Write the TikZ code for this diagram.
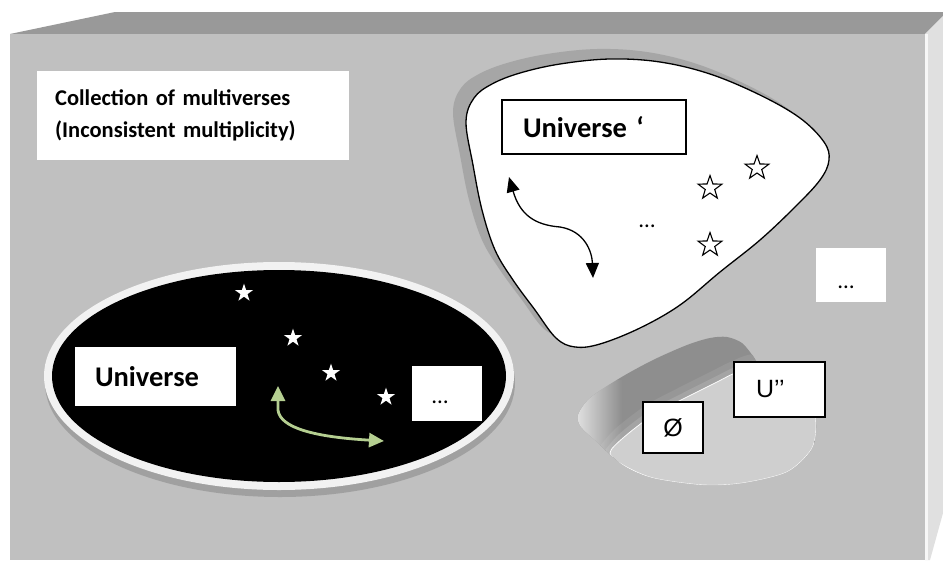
\documentclass[tikz,border=0pt]{standalone}
\usepackage{fontspec}
\setmainfont{Carlito}
\newfontfamily\glyphfont{Liberation Sans}
\usetikzlibrary{shapes.geometric,arrows.meta,fadings}

\definecolor{frontface}{HTML}{C0C0C0}
\definecolor{topface}{HTML}{999999}
\definecolor{sideface}{HTML}{E0E0E0}
\definecolor{ringcol}{HTML}{F2F2F2}
\definecolor{shadowcol}{HTML}{A0A0A0}
\definecolor{blobshadow}{HTML}{A6A6A6}
\definecolor{leaf}{HTML}{B5CF91}
\definecolor{floorcol}{HTML}{CFCFCF}
\definecolor{wallcol}{HTML}{8E8E8E}
\definecolor{wallmid}{HTML}{979797}
\definecolor{walllow}{HTML}{A4A4A4}

\begin{document}
\begin{tikzpicture}[x=1pt,y=-1pt,
  bigbold/.style={font=\bfseries\fontsize{28.5}{32}\selectfont},
  plainbox/.style={fill=white, inner sep=0pt},
  framebox/.style={draw=black, line width=1.3pt, fill=white, inner sep=0pt},
  dotstext/.style={font=\fontsize{23}{26}\selectfont, inner sep=0pt, anchor=base},
  whitestar/.style={star, star points=5, star point ratio=2.6, fill=white,
    inner sep=0pt, minimum size=19pt},
  openstar/.style={star, star points=5, star point ratio=2.5, draw=black,
    line width=1.1pt, fill=white, inner sep=0pt, minimum size=25pt},
  blackends/.style={{Triangle[length=15pt,width=13pt]}-{Triangle[length=15pt,width=13pt]}},
  greenends/.style={{Triangle[length=15pt,width=14pt]}-{Triangle[length=15pt,width=14pt]}}]
\useasboundingbox (0,0) rectangle (943,560);

% the block: top, side and front faces
\fill[white] (0,0) rectangle (943,560);
\fill[topface] (10,34) -- (115,12) -- (943,12) -- (943,16) -- (925,34) -- cycle;
\fill[sideface] (925,34) -- (943,16) -- (943,513) -- (930,560) -- (925,560) -- cycle;
\fill[frontface] (10,34) rectangle (925,560);
\fill[white!88!frontface] (925,34) rectangle (928,560);

% caption
\node (coll) [plainbox, anchor=north west, minimum width=312pt, minimum height=89pt,
  text width=276pt, inner xsep=18pt, align=left,
  font=\bfseries\fontsize{22.5}{32}\selectfont] at (37,71)
  {Collection of multiverses\\(Inconsistent multiplicity)};

% black universe with light rim and drop shadow
\fill[shadowcol] (280,383) ellipse [x radius=235, y radius=114];
\fill[ringcol] (279,376) ellipse [x radius=235, y radius=114];
\fill[black] (279,376) ellipse [x radius=227, y radius=106];

\node (uni) [plainbox, bigbold, minimum width=161pt, minimum height=59pt,
  text width=121pt, inner xsep=20pt, align=left] at (155.5,376.5) {Universe};
\node (udotsbox) [plainbox, minimum width=70pt, minimum height=55pt] at (447,393.5) {};
\node (udots) [dotstext] at (440,403) {…};

\node (s1) [whitestar] at (244,293) {};
\node (s2) [whitestar] at (293,338) {};
\node (s3) [whitestar] at (331,373) {};
\node (s4) [whitestar] at (386,397) {};

\coordinate (ga) at (278,386);
\coordinate (gb) at (384,441);
\draw[leaf, line width=2.8pt, greenends]
  (ga) -- (278,410) .. controls (280,428) and (315,437) .. (gb);

% white universe (rounded triangle) with offset shadow
\fill[blobshadow, shift={(-13,-10)}] plot[smooth cycle, tension=0.6] coordinates {
  (466,122) (474,98) (492,84) (520,73) (560,64) (610,59) (660,62) (710,74)
  (760,95) (800,118) (824,142) (829,160) (820,180) (795,207) (760,240)
  (720,272) (680,305) (640,328) (600,344) (575,347) (556,338) (535,310)
  (513,280) (495,250) (482,210) (473,165)};
\draw[black, line width=1.3pt, fill=white] plot[smooth cycle, tension=0.6] coordinates {
  (466,122) (474,98) (492,84) (520,73) (560,64) (610,59) (660,62) (710,74)
  (760,95) (800,118) (824,142) (829,160) (820,180) (795,207) (760,240)
  (720,272) (680,305) (640,328) (600,344) (575,347) (556,338) (535,310)
  (513,280) (495,250) (482,210) (473,165)};

\node (unip) [framebox, bigbold, minimum width=184pt, minimum height=54pt,
  text width=142pt, inner xsep=21pt, align=left] at (594,127) {Universe ‘};
\node (bdots) [dotstext] at (647,227) {…};

\node (o1) [openstar] at (710,188) {};
\node (o2) [openstar] at (757,168) {};
\node (o3) [openstar] at (710,245) {};

\coordinate (ba) at (509,177);
\coordinate (bb) at (593,278);
\draw[black, line width=1.3pt, blackends]
  (ba) .. controls (520,215) and (535,225) .. (560,227)
       .. controls (585,231) and (592,252) .. (bb);

% the far-right ellipsis card
\node (rdotsbox) [plainbox, minimum width=70pt, minimum height=54pt] at (851,275) {};
\node (rdots) [dotstext] at (846,288) {…};

% the empty pit: sloping wall round a flat floor
\begin{scope}
  \clip plot[smooth cycle, tension=0.5] coordinates {
    (578,415) (590,398) (620,378) (653,360) (687,345) (710,338) (727,337)
    (742,343) (753,356) (762,368) (790,380) (812,405) (816,428) (811,450)
    (787,472) (743,483) (703,485) (653,478) (623,465) (597,442) (581,427)};
  \fill[wallcol] (570,330) rectangle (830,490);
  \draw[wallmid, line width=24pt, line join=round]
    plot[smooth, tension=0.5] coordinates {
    (606,458) (623,438) (653,415) (687,397) (717,382) (735,373) (757,366) (790,378)};
  \draw[walllow, line width=11pt, line join=round]
    plot[smooth, tension=0.5] coordinates {
    (606,458) (623,438) (653,415) (687,397) (717,382) (735,373) (757,366) (790,378)};
  \fill[white!60!frontface, path fading=east] (574,380) rectangle (622,470);
  \draw[white!92!floorcol, line width=0.8pt, fill=floorcol]
    plot[smooth cycle, tension=0.5] coordinates {
    (610,453) (623,438) (653,415) (687,397) (717,382) (735,373) (757,366)
    (790,380) (812,405) (816,428) (811,450) (787,472) (743,483) (703,485)
    (653,478) (623,465)};
\end{scope}

\node (nul) [framebox, minimum width=60pt, minimum height=51pt,
  font=\glyphfont\fontsize{25}{28}\selectfont] at (673,427.5) {Ø};
\node (upp) [framebox, minimum width=91pt, minimum height=55pt, text width=47pt,
  inner xsep=22pt, align=left, font=\glyphfont\fontsize{25}{28}\selectfont]
  at (779.5,389.5) {U’’};
\end{tikzpicture}
\end{document}
